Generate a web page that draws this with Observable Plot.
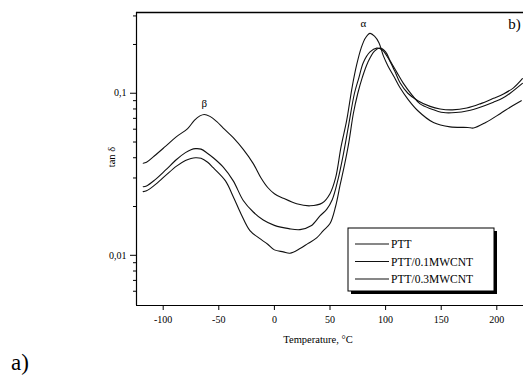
<!DOCTYPE html>
<html><head><meta charset="utf-8">
<script src="https://cdn.jsdelivr.net/npm/d3@7"></script>
<script src="https://cdn.jsdelivr.net/npm/@observablehq/plot@0.6"></script>
<style>body{margin:0;background:#fff} svg{display:block}</style>
</head><body><div id="chart"></div>
<script>
const seriesNames = ["PTT", "PTT/0.1MWCNT", "PTT/0.3MWCNT"];

const tempPTT = [-118, -115, -108, -98, -88, -78, -72, -67, -63, -58, -52, -46, -37, -28, -19, -12, -6, 0, 8, 20, 32, 43, 50, 55, 60, 65, 70, 74, 78, 82, 86, 90, 94, 98, 102, 108, 113, 120, 129, 143, 158, 174, 179, 190, 203, 212, 222];
const tanPTT  = [0.037, 0.0375, 0.041, 0.047, 0.054, 0.0605, 0.068, 0.0725, 0.074, 0.072, 0.067, 0.061, 0.0532, 0.045, 0.0368, 0.030, 0.0262, 0.024, 0.0225, 0.0208, 0.0202, 0.021, 0.024, 0.030, 0.047, 0.068, 0.11, 0.15, 0.19, 0.22, 0.234, 0.225, 0.205, 0.17, 0.148, 0.125, 0.108, 0.092, 0.078, 0.066, 0.062, 0.0615, 0.061, 0.066, 0.0748, 0.082, 0.09];

const temp01 = [-118, -115, -108, -98, -88, -80, -75, -71, -66, -60, -55, -46, -37, -28, -19, -10, 0, 13, 23, 33, 41, 47, 52, 57, 62, 67, 72, 76, 80, 86, 92, 97, 102, 108, 113, 120, 129, 140, 149, 160, 173, 185, 197, 206, 215, 223];
const tan01  = [0.0265, 0.0268, 0.029, 0.0335, 0.039, 0.043, 0.0448, 0.0455, 0.0452, 0.0425, 0.040, 0.035, 0.0288, 0.0218, 0.0185, 0.0165, 0.0153, 0.0146, 0.0144, 0.0152, 0.0175, 0.0192, 0.022, 0.029, 0.042, 0.065, 0.10, 0.125, 0.155, 0.18, 0.19, 0.185, 0.166, 0.138, 0.116, 0.10, 0.09, 0.083, 0.080, 0.079, 0.081, 0.086, 0.093, 0.099, 0.108, 0.123];

const temp03 = [-118, -115, -108, -98, -88, -80, -75, -71, -66, -60, -55, -44, -37, -30, -22, -14, -6, 0, 8, 14, 23, 30, 38, 44, 50, 55, 59, 63, 67, 71, 75, 79, 84, 90, 95, 100, 104, 110, 116, 124, 131, 141, 152, 163, 174, 185, 197, 205, 212, 223];
const tan03  = [0.0247, 0.025, 0.027, 0.031, 0.0355, 0.0385, 0.0396, 0.040, 0.0397, 0.0375, 0.0347, 0.0288, 0.023, 0.018, 0.0142, 0.0128, 0.0117, 0.0108, 0.0105, 0.0103, 0.011, 0.0118, 0.0128, 0.0142, 0.0157, 0.02, 0.027, 0.036, 0.05, 0.075, 0.10, 0.125, 0.155, 0.182, 0.19, 0.18, 0.159, 0.135, 0.115, 0.097, 0.086, 0.08, 0.076, 0.076, 0.078, 0.082, 0.088, 0.093, 0.10, 0.115];

const xTicks = [-100, -50, 0, 50, 100, 150, 200];
const xTickLabels = ["-100", "-50", "0", "50", "100", "150", "200"];
const yTicks = [0.01, 0.1];
const yTickLabels = ["0,01", "0,1"];
const yMinorTicks = [0.006, 0.007, 0.008, 0.009, 0.02, 0.03, 0.04, 0.05, 0.06, 0.07, 0.08, 0.09, 0.2, 0.3];

const peakNames = ["β", "α", "b)"];
const peakT = [-63, 80, 216];
const peakTan = [0.086, 0.27, 0.265];

const xDomain = [-124, 224];
const yDomain = [0.0049, 0.315];
const ff = "Liberation Serif";

const rows = [];
[[tempPTT, tanPTT], [temp01, tan01], [temp03, tan03]].forEach(([t, v], k) => {
  t.forEach((T, i) => rows.push({series: seriesNames[k], T, tan: v[i]}));
});
const peaks = peakNames.map((n, i) => ({name: n, T: peakT[i], tan: peakTan[i]}));

const plot = Plot.plot({
  width: 523, height: 378,
  marginLeft: 136, marginRight: 0, marginTop: 12, marginBottom: 73,
  style: {fontFamily: ff, background: "#fff", color: "#000"},
  x: {domain: xDomain},
  y: {type: "log", domain: yDomain},
  marks: [
    Plot.ruleX([xDomain[0]], {stroke: "#000", strokeWidth: 1.2}),
    Plot.ruleY([yDomain[0]], {stroke: "#000", strokeWidth: 1.2}),
    Plot.ruleY([yDomain[1]], {stroke: "#000", strokeWidth: 1.4}),
    Plot.axisX({ticks: xTicks, tickFormat: d => xTickLabels[xTicks.indexOf(d)], tickSize: 5, tickPadding: 5, fontSize: 10, fontFamily: ff, label: null}),
    Plot.axisY({ticks: yMinorTicks, tickSize: 3, tickFormat: () => "", label: null}),
    Plot.axisY({ticks: yTicks, tickSize: 6, tickPadding: 4, tickFormat: d => yTickLabels[yTicks.indexOf(d)], fontSize: 10, fontFamily: ff, label: null}),
    Plot.line(rows, {x: "T", y: "tan", z: "series", stroke: "#111", strokeWidth: 1.1, curve: "catmull-rom"}),
    Plot.text(peaks.slice(0, 2), {x: "T", y: "tan", text: "name", fontSize: 11, fontFamily: ff}),
    Plot.text(peaks.slice(2), {x: "T", y: "tan", text: "name", fontSize: 15, fontFamily: ff})
  ]
});
document.getElementById("chart").appendChild(plot);

const svg = d3.select(plot);
svg.append("text").attr("x", 318).attr("y", 343).attr("text-anchor", "middle")
  .attr("font-family", ff).attr("font-size", 10.5).text("Temperature, °C");
svg.append("text").attr("transform", "translate(115,157) rotate(-90)").attr("text-anchor", "middle")
  .attr("font-family", ff).attr("font-size", 10.5).text("tan δ");
svg.append("text").attr("x", 11).attr("y", 370).attr("text-anchor", "start")
  .attr("font-family", ff).attr("font-size", 23).text("a)");
const lg = svg.append("g");
lg.append("rect").attr("x", 351).attr("y", 231).attr("width", 146).attr("height", 63).attr("fill", "#000");
lg.append("rect").attr("x", 348).attr("y", 228).attr("width", 146).attr("height", 63).attr("fill", "#fff").attr("stroke", "#000");
seriesNames.forEach((n, i) => {
  const y = 244 + i * 17.5;
  lg.append("line").attr("x1", 355).attr("x2", 389).attr("y1", y).attr("y2", y).attr("stroke", "#111").attr("stroke-width", 1.1);
  lg.append("text").attr("x", 391).attr("y", y + 4).attr("text-anchor", "start")
    .attr("font-family", ff).attr("font-size", 11.5).text(n);
});
</script></body></html>
